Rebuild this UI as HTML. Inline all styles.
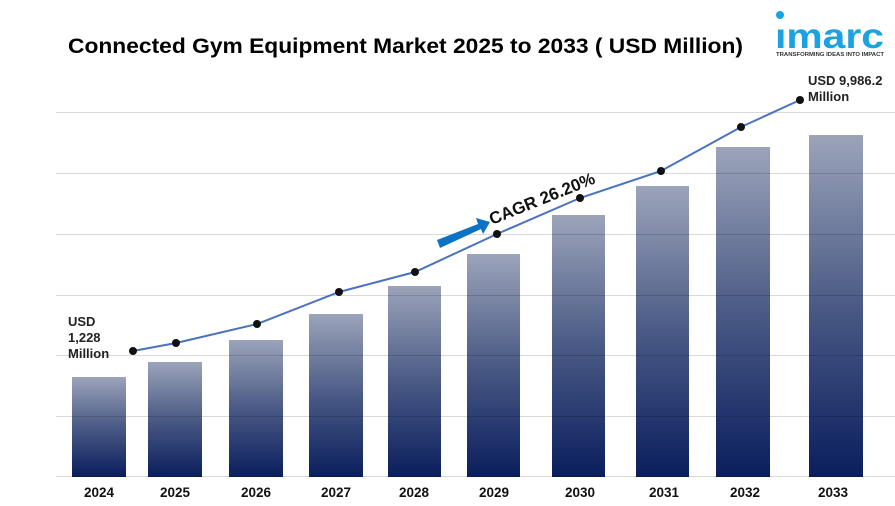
<!DOCTYPE html>
<html><head><meta charset="utf-8"><style>body{margin:0;background:#fff}svg{display:block}</style></head><body>
<svg width="895" height="506" xmlns="http://www.w3.org/2000/svg" font-family="Liberation Sans, Arial, sans-serif">
<defs>
<linearGradient id="g" x1="0" y1="0" x2="0" y2="1">
<stop offset="0" stop-color="#9ca4ba"/><stop offset="0.5" stop-color="#4a5a85"/><stop offset="1" stop-color="#0a1e5d"/>
</linearGradient>
</defs>
<text x="68" y="53" font-size="21" font-weight="bold" fill="#000" textLength="675" lengthAdjust="spacingAndGlyphs">Connected Gym Equipment Market 2025 to 2033 ( USD Million)</text>
<g fill="url(#g)">
<rect x="72" y="377" width="54" height="100"/>
<rect x="148" y="362" width="54" height="115"/>
<rect x="229" y="340" width="54" height="137"/>
<rect x="309" y="314" width="54" height="163"/>
<rect x="388" y="286" width="53" height="191"/>
<rect x="467" y="254" width="53" height="223"/>
<rect x="552" y="215" width="53" height="262"/>
<rect x="636" y="186" width="53" height="291"/>
<rect x="716" y="147" width="54" height="330"/>
<rect x="809" y="135" width="54" height="342"/>
</g>
<g stroke="#000" stroke-opacity="0.15" stroke-width="1">
<line x1="56" y1="112.5" x2="895" y2="112.5"/><line x1="56" y1="173.5" x2="895" y2="173.5"/>
<line x1="56" y1="234.5" x2="895" y2="234.5"/><line x1="56" y1="295.5" x2="895" y2="295.5"/>
<line x1="56" y1="355.5" x2="895" y2="355.5"/><line x1="56" y1="416.5" x2="895" y2="416.5"/>
<line x1="56" y1="476.5" x2="895" y2="476.5"/>
</g>
<polyline fill="none" stroke="#4a72c0" stroke-width="2" points="133,351 176,343 257,324 339,292 415,272 497,234 580,198 661,171 741,127 800,100"/>
<g fill="#111">
<circle cx="133" cy="351" r="4"/><circle cx="176" cy="343" r="4"/><circle cx="257" cy="324" r="4"/><circle cx="339" cy="292" r="4"/><circle cx="415" cy="272" r="4"/><circle cx="497" cy="234" r="4"/><circle cx="580" cy="198" r="4"/><circle cx="661" cy="171" r="4"/><circle cx="741" cy="127" r="4"/><circle cx="800" cy="100" r="4"/>
</g>
<polygon fill="#0b72c4" points="437,240 478,224 476,218 490,222 483,234 481,229 440,248"/>
<text transform="translate(492,225) rotate(-22)" font-size="17" font-weight="bold" fill="#111">CAGR 26.20%</text>
<g font-size="13" font-weight="bold" fill="#222">
<text x="68" y="326">USD</text><text x="68" y="342">1,228</text><text x="68" y="358">Million</text>
<text x="808" y="85">USD 9,986.2</text><text x="808" y="101">Million</text>
</g>
<g font-size="13.5" font-weight="bold" fill="#111" text-anchor="middle">
<text x="99" y="497">2024</text><text x="175" y="497">2025</text><text x="256" y="497">2026</text><text x="336" y="497">2027</text><text x="414" y="497">2028</text><text x="494" y="497">2029</text><text x="580" y="497">2030</text><text x="664" y="497">2031</text><text x="745" y="497">2032</text><text x="833" y="497">2033</text>
</g>
<circle cx="780" cy="15" r="4" fill="#1aa3e0"/>
<text x="775" y="48" font-size="35" font-weight="bold" fill="#1aa3e0" textLength="109" lengthAdjust="spacingAndGlyphs">ımarc</text>
<text x="776" y="56" font-size="5.2" font-weight="bold" fill="#333" textLength="108" lengthAdjust="spacingAndGlyphs">TRANSFORMING IDEAS INTO IMPACT</text>
</svg>
</body></html>
